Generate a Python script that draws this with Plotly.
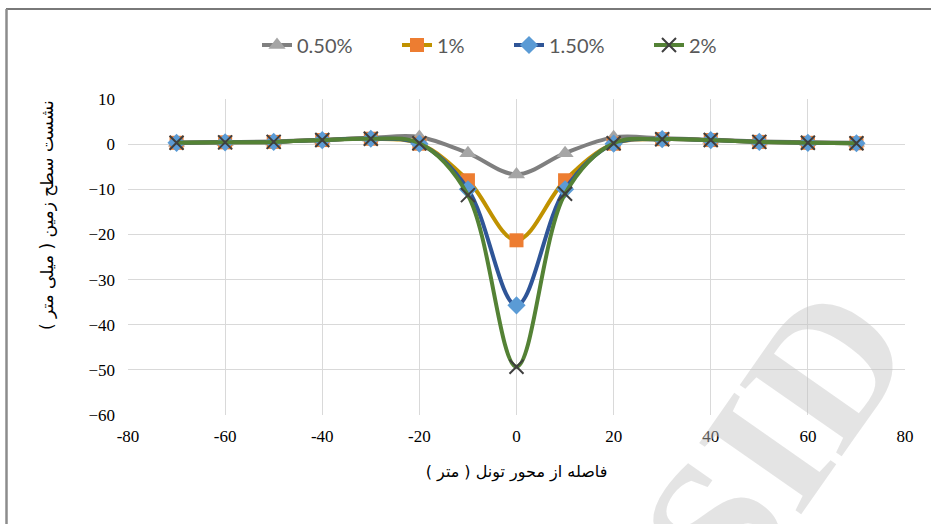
import plotly.graph_objects as go

distance = [-70, -60, -50, -40, -30, -20, -10, 0, 10, 20, 30, 40, 50, 60, 70]
s050 = [0.3, 0.4, 0.6, 1.0, 1.4, 1.6, -2.0, -6.7, -2.0, 1.5, 1.3, 1.0, 0.6, 0.4, 0.3]
s100 = [0.3, 0.4, 0.5, 0.9, 1.2, 0.1, -8.0, -21.3, -8.0, 0.1, 1.1, 0.9, 0.5, 0.3, 0.2]
s150 = [0.3, 0.4, 0.5, 0.9, 1.2, 0.1, -10.0, -35.7, -10.0, 0.1, 1.1, 0.9, 0.5, 0.3, 0.2]
s200 = [0.3, 0.4, 0.5, 0.9, 1.2, 0.2, -11.3, -49.3, -11.0, 0.2, 1.1, 0.9, 0.5, 0.3, 0.2]

series_names = ["0.50%", "1%", "1.50%", "2%"]
x_ticks = [-80, -60, -40, -20, 0, 20, 40, 60, 80]
x_ticklabels = ["-80", "-60", "-40", "-20", "0", "20", "40", "60", "80"]
y_ticks = [10, 0, -10, -20, -30, -40, -50, -60]

x_title = "فاصله از محور تونل ( متر )"
y_title = "نشست سطح زمین ( میلی متر )"

styles = [
    dict(line="#7F7F7F", marker="#A5A5A5", symbol="triangle-up", size=15, mline=0),
    dict(line="#C09200", marker="#ED7D31", symbol="square", size=14, mline=0),
    dict(line="#2F5597", marker="#5B9BD5", symbol="diamond", size=14, mline=0),
    dict(line="#548235", marker="#3F3F3F", symbol="x-thin", size=14, mline=2),
]

# plot area in pixels: x 128..905, y 99..415
L, R, T, B = 128, 905, 99, 415
W, H = 931, 524


def px_x(p):
    return (p - L) / (R - L)


def px_y(p):
    return (B - p) / (B - T)


legend_text_starts = [305, 445, 557, 697]
legend_keys = ["legend", "legend2", "legend3", "legend4"]

fig = go.Figure()
for name, ys, st, lk in zip(series_names, [s050, s100, s150, s200], styles, legend_keys):
    mk = dict(symbol=st["symbol"], size=st["size"], color=st["marker"])
    if st["symbol"] == "x-thin":
        mk["line"] = dict(color=st["marker"], width=st["mline"])
    else:
        mk["line"] = dict(width=0)
    fig.add_trace(go.Scatter(
        x=distance, y=ys, name=name, mode="lines+markers", legend=lk,
        line=dict(color=st["line"], width=4, shape="spline", smoothing=1.0),
        marker=mk,
    ))

serif = "Liberation Serif, Times New Roman, serif"
arabic = "DejaVu Sans, Noto Sans, sans-serif"
legend_font = dict(size=20, color="#595959", family="Lato")

legend_layout = {}
for lk, ts in zip(legend_keys, legend_text_starts):
    legend_layout[lk] = dict(
        orientation="h", x=(ts - 48) / W, xref="container", xanchor="left",
        y=1 - 45 / H, yref="container", yanchor="middle",
        font=legend_font, bgcolor="rgba(0,0,0,0)",
    )

fig.add_annotation(
    text="<b>SID</b>", x=px_x(775), y=px_y(440), xref="paper", yref="paper",
    showarrow=False, textangle=-55, xanchor="center", yanchor="middle",
    font=dict(size=190, color="rgba(195,195,195,0.45)", family="Liberation Serif"),
)
fig.add_annotation(
    text=y_title, x=px_x(47), y=px_y(215), xref="paper", yref="paper",
    showarrow=False, textangle=-90, xanchor="center", yanchor="middle",
    font=dict(family=arabic, size=17, color="#000000"),
)

fig.update_layout(
    width=W, height=H,
    margin=dict(l=L, r=W - R, t=T, b=H - B, autoexpand=False),
    paper_bgcolor="white", plot_bgcolor="white",
    showlegend=True,
    **legend_layout,
    xaxis=dict(
        range=[-80, 80], tickvals=x_ticks, ticktext=x_ticklabels,
        showgrid=True, gridcolor="#D9D9D9", gridwidth=1.3, zeroline=False,
        showline=False, ticks="", ticklabelstandoff=9,
        tickfont=dict(family=serif, size=17, color="#000000"),
        title=dict(text=x_title, standoff=20,
                   font=dict(family=arabic, size=16, color="#000000")),
    ),
    yaxis=dict(
        range=[-60, 10], tickvals=y_ticks,
        showgrid=True, gridcolor="#D9D9D9", gridwidth=1.3, zeroline=False,
        showline=False, ticks="", ticklabelstandoff=12,
        tickfont=dict(family=serif, size=17, color="#000000"),
    ),
    shapes=[
        dict(type="line", xref="paper", yref="paper", x0=px_x(6), x1=px_x(940),
             y0=px_y(9), y1=px_y(9), line=dict(color="#4D4D4D", width=1.5)),
        dict(type="line", xref="paper", yref="paper", x0=px_x(6.5), x1=px_x(6.5),
             y0=px_y(9), y1=px_y(530), line=dict(color="#8C8C8C", width=2.5)),
    ],
)

fig.write_html("out.html", config={"displayModeBar": False},
               post_script="document.body.style.margin='0px';")
